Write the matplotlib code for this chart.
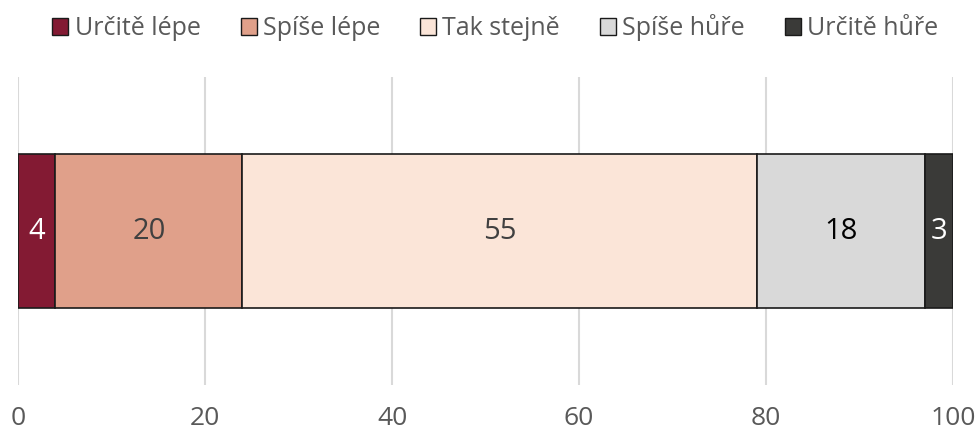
import matplotlib
matplotlib.use("Agg")
import matplotlib.pyplot as plt
from matplotlib.patches import Patch

categories = ["Určitě lépe", "Spíše lépe", "Tak stejně", "Spíše hůře", "Určitě hůře"]
values = [4, 20, 55, 18, 3]
colors = ["#831A33", "#E0A08A", "#FBE5D8", "#D9D9D9", "#3A3A38"]
label_colors = ["white", "#404040", "#404040", "black", "white"]
xticks = [0, 20, 40, 60, 80, 100]

plt.rcParams['font.family'] = ['Open Sans', 'DejaVu Sans']

fig = plt.figure(figsize=(9.79, 4.36), dpi=100)
ax = fig.add_axes([18/979, 51/436, 935/979, 308/436])

left = 0
for cat, v, c, lc in zip(categories, values, colors, label_colors):
    ax.barh(0, v, left=left, height=0.503, color=c, edgecolor="#1a1a1a", linewidth=1.2, zorder=3)
    ax.text(left + v/2, 0, str(v), ha="center", va="center", fontsize=21, color=lc, zorder=4)
    left += v

ax.set_xlim(0, 100)
ax.set_ylim(-0.5, 0.5)
ax.set_xticks(xticks)
ax.set_xticklabels([str(t) for t in xticks], fontsize=19, color="#595959")
ax.set_yticks([])
ax.tick_params(axis="x", length=0, pad=15)
ax.grid(axis="x", color="#D9D9D9", linewidth=1.5, zorder=0)
for s in ax.spines.values():
    s.set_visible(False)

handles = [Patch(facecolor=c, edgecolor="#1a1a1a", linewidth=1.0) for c in colors]
fig.legend(handles, categories, loc="center", bbox_to_anchor=(0.506, 0.936), ncol=5,
           frameon=False, fontsize=18, handlelength=0.64, handleheight=0.64,
           handletextpad=0.25, columnspacing=1.6, labelcolor="#595959",
           borderpad=0, borderaxespad=0)

fig.savefig("out.png", dpi=100)
